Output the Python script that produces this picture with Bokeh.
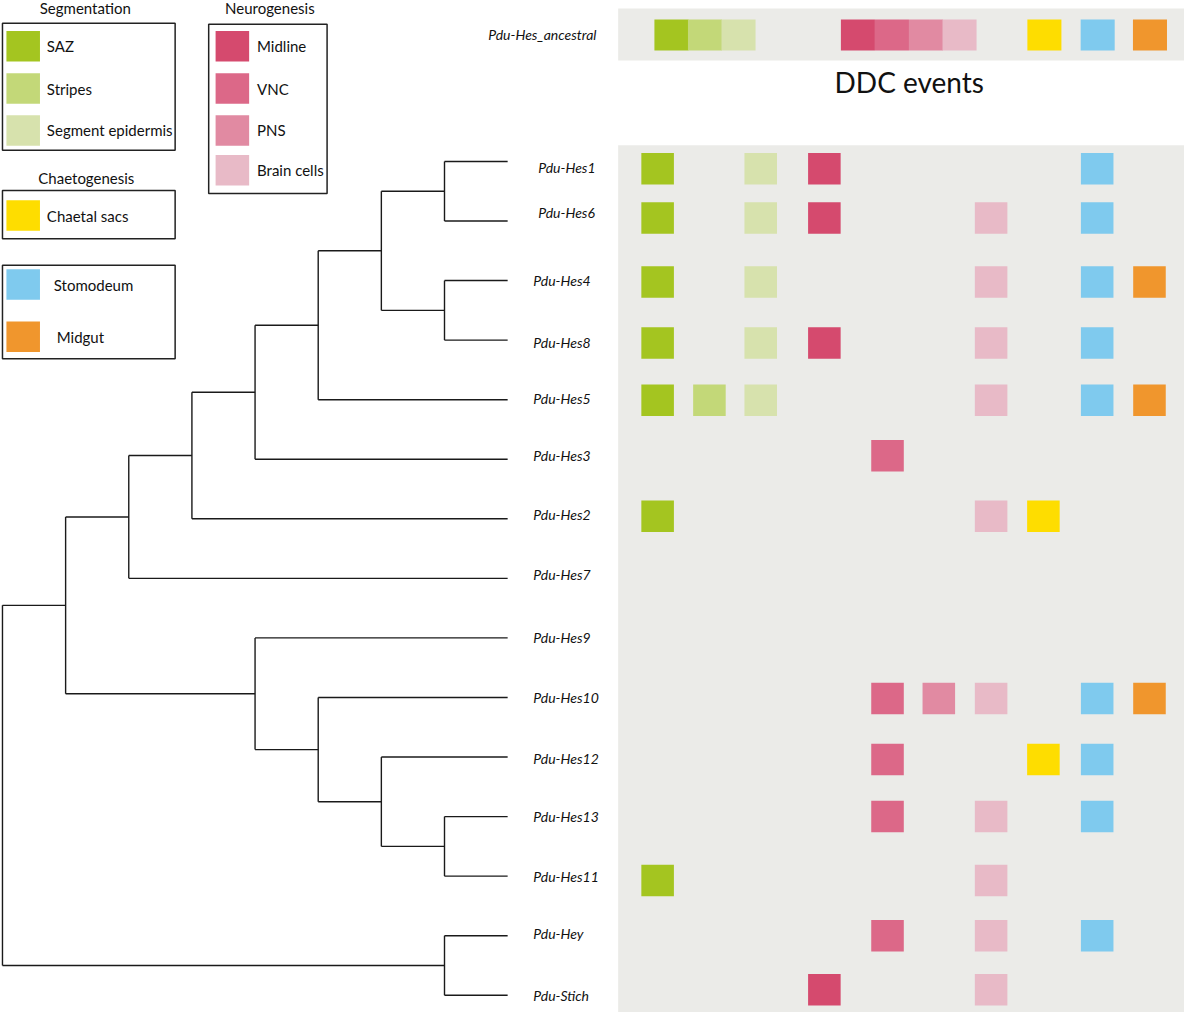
from bokeh.plotting import figure
from bokeh.models import Range1d, ColumnDataSource
from bokeh.core.properties import value
from bokeh.embed import file_html
from bokeh.resources import INLINE

# ---------------- data ----------------
categories = ["SAZ", "Stripes", "Segment epidermis", "Midline", "VNC", "PNS",
              "Brain cells", "Chaetal sacs", "Stomodeum", "Midgut"]
cat_colors = ["#a4c520", "#c3d878", "#d7e2ad", "#d54a6e", "#dc6888", "#e18aa2",
              "#e8bac7", "#fedd00", "#7fcaee", "#f0962d"]
group_titles = ["Segmentation", "Neurogenesis", "Chaetogenesis", ""]
group_members = [[0, 1, 2], [3, 4, 5, 6], [7], [8, 9]]

ancestral_name = "Pdu-Hes_ancestral"
ancestral = [1, 1, 1, 1, 1, 1, 1, 1, 1, 1]

genes = ["Pdu-Hes1", "Pdu-Hes6", "Pdu-Hes4", "Pdu-Hes8", "Pdu-Hes5", "Pdu-Hes3",
         "Pdu-Hes2", "Pdu-Hes7", "Pdu-Hes9", "Pdu-Hes10", "Pdu-Hes12",
         "Pdu-Hes13", "Pdu-Hes11", "Pdu-Hey", "Pdu-Stich"]
# presence per gene, in category order
hes1 = [1, 0, 1, 1, 0, 0, 0, 0, 1, 0]
hes6 = [1, 0, 1, 1, 0, 0, 1, 0, 1, 0]
hes4 = [1, 0, 1, 0, 0, 0, 1, 0, 1, 1]
hes8 = [1, 0, 1, 1, 0, 0, 1, 0, 1, 0]
hes5 = [1, 1, 1, 0, 0, 0, 1, 0, 1, 1]
hes3 = [0, 0, 0, 0, 1, 0, 0, 0, 0, 0]
hes2 = [1, 0, 0, 0, 0, 0, 1, 1, 0, 0]
hes7 = [0, 0, 0, 0, 0, 0, 0, 0, 0, 0]
hes9 = [0, 0, 0, 0, 0, 0, 0, 0, 0, 0]
hes10 = [0, 0, 0, 0, 1, 1, 1, 0, 1, 1]
hes12 = [0, 0, 0, 0, 1, 0, 0, 1, 1, 0]
hes13 = [0, 0, 0, 0, 1, 0, 1, 0, 1, 0]
hes11 = [1, 0, 0, 0, 0, 0, 1, 0, 0, 0]
hey = [0, 0, 0, 0, 1, 0, 1, 0, 1, 0]
stich = [0, 0, 0, 1, 0, 0, 1, 0, 0, 0]
presence = [hes1, hes6, hes4, hes8, hes5, hes3, hes2, hes7, hes9, hes10,
            hes12, hes13, hes11, hey, stich]

# tree topology (cladogram)
tree = ((((((((("Pdu-Hes1", "Pdu-Hes6"), ("Pdu-Hes4", "Pdu-Hes8")), "Pdu-Hes5"),
             "Pdu-Hes3"), "Pdu-Hes2"), "Pdu-Hes7"),
          ("Pdu-Hes9", ("Pdu-Hes10", ("Pdu-Hes12", ("Pdu-Hes13", "Pdu-Hes11"))))),
         ("Pdu-Hey", "Pdu-Stich")))

# ---------------- layout ----------------
ROW0, ROWSTEP = 163.5, 60.5
TREE_X0, TREE_STEP, MAX_LEVEL = 2, 64, 8
LABEL_X = 540
PANEL_L, PANEL_R = 626, 1200
lower_cols = [666, 718.5, 770.5, 835, 899, 951, 1004, 1057, 1111.5, 1164.5]
top_cols = [680, 714, 748, 869, 903.5, 938, 972, 1058, 1112, 1165]
TOP_Y = 35
# small per-row nudges of the labels / squares relative to the tree rows
label_dy = [6.5, -9, 0, 2, -1.5, -4, -4.5, -4, 0, 0, 1.5, 0, 0, -2, 0]
label_dx = [5, 5, 0, 0, 0, 0, 0, 0, 0, 0, 0, 0, 0, 0, 0]
square_dy = [7.5, -3, 1.5, 3, 0.5, -3.5, -2.5, 0, 0, 1, 2.5, 0, 4.5, 0, -5.5]

row_y = {g: ROW0 + ROWSTEP * i for i, g in enumerate(genes)}

p = figure(width=1184, height=1012, x_range=Range1d(0, 1200), y_range=Range1d(1028, 0),
           output_backend="svg", toolbar_location=None, min_border=0)
p.axis.visible = False
p.grid.visible = False
p.outline_line_color = None
p.background_fill_color = "white"

FONT = value("Lato")

# grey panels
p.quad(left=[PANEL_L, PANEL_L], right=[PANEL_R, PANEL_R], top=[8, 147], bottom=[61, 1028],
       fill_color="#ebebe8", line_color=None)

# tree
segs = {"x0": [], "y0": [], "x1": [], "y1": []}


def height(node):
    if isinstance(node, str):
        return 0
    return 1 + max(height(c) for c in node)


def place(node):
    if isinstance(node, str):
        return TREE_X0 + TREE_STEP * MAX_LEVEL, row_y[node]
    x = TREE_X0 + TREE_STEP * (MAX_LEVEL - height(node))
    ys = []
    for c in node:
        cx, cy = place(c)
        segs["x0"].append(x); segs["y0"].append(cy)
        segs["x1"].append(cx); segs["y1"].append(cy)
        ys.append(cy)
    segs["x0"].append(x); segs["y0"].append(min(ys))
    segs["x1"].append(x); segs["y1"].append(max(ys))
    return x, (min(ys) + max(ys)) / 2


place(tree)
p.segment(x0="x0", y0="y0", x1="x1", y1="y1", source=ColumnDataSource(segs),
          line_color="#1a1a1a", line_width=1.4)

# gene labels
p.text(x=[LABEL_X + dx for dx in label_dx],
       y=[row_y[g] + dy for g, dy in zip(genes, label_dy)], text=genes,
       text_font=FONT, text_font_style="italic", text_font_size="14px",
       text_align="left", text_baseline="middle", text_color="#111111")
p.text(x=[604], y=[TOP_Y], text=[ancestral_name], text_font=FONT, text_font_style="italic",
       text_font_size="14px", text_align="right", text_baseline="middle", text_color="#111111")

# lower grid squares
sx, sy, sc = [], [], []
for g, row, dy in zip(genes, presence, square_dy):
    for j, v in enumerate(row):
        if v:
            sx.append(lower_cols[j]); sy.append(row_y[g] + dy); sc.append(cat_colors[j])
p.rect(x=sx, y=sy, width=33, height=32, fill_color=sc, line_color=None)

# ancestral squares
ax = [top_cols[j] for j, v in enumerate(ancestral) if v]
ac = [cat_colors[j] for j, v in enumerate(ancestral) if v]
p.rect(x=ax, y=[TOP_Y] * len(ax), width=34.5, height=31.5, fill_color=ac, line_color=None)

p.text(x=[921], y=[83], text=["DDC events"], text_font=FONT, text_font_size="28px",
       text_align="center", text_baseline="middle", text_color="#111111")

# legends
boxes = [(2, 177, 23, 152), (211, 331, 24, 196), (2, 177, 193, 242), (2, 177, 269, 364)]
title_pos = [(86, 8), (273, 8), (87, 180), (0, 0)]
item_y = [[46.5, 89.5, 132], [46.5, 89.5, 132, 172.5], [218.5], [288.5, 341.5]]
sq_x = [23, 235, 23, 23]
txt_x = [[47, 47, 47], [260, 260, 260, 260], [47], [54, 57]]

p.quad(left=[b[0] for b in boxes], right=[b[1] for b in boxes],
       top=[b[2] for b in boxes], bottom=[b[3] for b in boxes],
       fill_color=None, line_color="#222222", line_width=1.5)

tx, ty, tt = [], [], []
for t, (x, y) in zip(group_titles, title_pos):
    if t:
        tx.append(x); ty.append(y); tt.append(t)
p.text(x=tx, y=ty, text=tt, text_font=FONT, text_font_size="15px", text_align="center",
       text_baseline="middle", text_color="#111111")

lx, ly, lc, lt, ltx = [], [], [], [], []
for gi, members in enumerate(group_members):
    for k, ci in enumerate(members):
        lx.append(sq_x[gi]); ly.append(item_y[gi][k]); lc.append(cat_colors[ci])
        lt.append(categories[ci]); ltx.append(txt_x[gi][k])
p.rect(x=lx, y=ly, width=34, height=31, fill_color=lc, line_color=None)
p.text(x=ltx, y=ly, text=lt, text_font=FONT, text_font_size="15px", text_align="left",
       text_baseline="middle", text_color="#111111")

open("out.html", "w").write(file_html(p, INLINE))
